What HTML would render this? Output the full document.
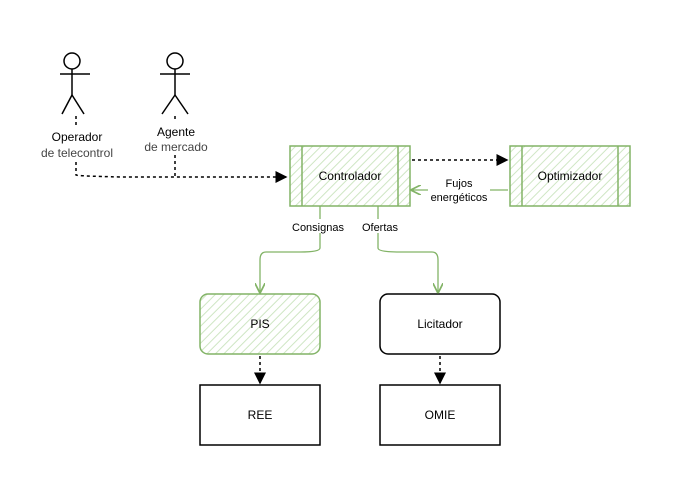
<!DOCTYPE html>
<html><head><meta charset="utf-8"><style>
body{margin:0;background:#fff}
svg text{font-family:"Comic Sans MS","Liberation Sans",sans-serif}
</style></head><body>
<svg width="680" height="490" viewBox="0 0 680 490" xmlns="http://www.w3.org/2000/svg">
<defs>
<pattern id="h" width="6" height="6" patternUnits="userSpaceOnUse" patternTransform="rotate(45)">
<rect width="6" height="6" fill="#fff"/><line x1="0" y1="0" x2="0" y2="6" stroke="#cfe6c4" stroke-width="2"/>
</pattern>
<marker id="ab" markerWidth="8" markerHeight="8" refX="7" refY="4" orient="auto"><path d="M0,0 L8,4 L0,8z" fill="#000"/></marker>
<marker id="ag" markerWidth="8" markerHeight="8" refX="7" refY="4" orient="auto"><path d="M0,0 L8,4 L0,8" fill="none" stroke="#82b366" stroke-width="1.3"/></marker>
</defs>
<!-- actors -->
<g stroke="#000" stroke-width="1.5" fill="none">
<circle cx="72" cy="61" r="8"/><line x1="72" y1="69" x2="72" y2="95"/><line x1="60" y1="74" x2="90" y2="74"/><line x1="72" y1="95" x2="62" y2="114"/><line x1="72" y1="95" x2="84" y2="114"/>
<circle cx="175" cy="61" r="8"/><line x1="175" y1="69" x2="175" y2="95"/><line x1="160" y1="74" x2="190" y2="74"/><line x1="175" y1="95" x2="162" y2="114"/><line x1="175" y1="95" x2="188" y2="114"/>
</g>
<g stroke="#000" stroke-width="1.5" fill="none" stroke-dasharray="3,3">
<line x1="76" y1="116" x2="76" y2="128"/><line x1="175" y1="116" x2="175" y2="122"/>
<path d="M76,162 L76,175 Q78,176 120,177 L286,177" marker-end="url(#ab)"/>
<path d="M175,155 L175,176"/>
<path d="M412,160 L507,160" marker-end="url(#ab)"/>
<path d="M260,356 L260,383" marker-end="url(#ab)"/>
<path d="M440,356 L440,383" marker-end="url(#ab)"/>
</g>
<g font-size="12" text-anchor="middle">
<text x="77" y="141">Operador</text><text x="77" y="157" fill="#444">de telecontrol</text>
<text x="176" y="136">Agente</text><text x="176" y="151" fill="#444">de mercado</text>
</g>
<!-- boxes -->
<g stroke="#82b366" stroke-width="1.5">
<rect x="290" y="146" width="120" height="60" fill="url(#h)"/>
<line x1="302" y1="146" x2="302" y2="206"/><line x1="398" y1="146" x2="398" y2="206"/>
<rect x="510" y="146" width="120" height="60" fill="url(#h)"/>
<line x1="522" y1="146" x2="522" y2="206"/><line x1="618" y1="146" x2="618" y2="206"/>
<rect x="200" y="294" width="120" height="60" rx="8" fill="url(#h)"/>
</g>
<g stroke="#000" stroke-width="1.5" fill="#fff">
<rect x="380" y="294" width="120" height="60" rx="8"/>
<rect x="200" y="385" width="120" height="60"/>
<rect x="380" y="385" width="120" height="60"/>
</g>
<g font-size="12" text-anchor="middle">
<text x="350" y="180">Controlador</text><text x="570" y="180">Optimizador</text>
<text x="260" y="328">PIS</text><text x="440" y="328">Licitador</text>
<text x="260" y="419">REE</text><text x="440" y="419">OMIE</text>
</g>
<!-- green connectors -->
<g stroke="#82b366" stroke-width="1.3" fill="none">
<path d="M508,190 L412,190" marker-end="url(#ag)"/>
<path d="M320,206 L320,248 Q320,252 300,252 L266,252 Q260,252 260,260 L260,292" marker-end="url(#ag)"/>
<path d="M378,206 L378,248 Q378,252 400,252 L432,252 Q438,252 438,260 L438,292" marker-end="url(#ag)"/>
</g>
<rect x="428" y="176" width="62" height="28" fill="#fff"/>
<rect x="288" y="219" width="60" height="14" fill="#fff"/>
<rect x="358" y="219" width="42" height="14" fill="#fff"/>
<g font-size="11" font-family="Liberation Sans,sans-serif" text-anchor="middle" style="font-family:'Liberation Sans',sans-serif">
<text x="459" y="187" style="font-family:'Liberation Sans',sans-serif">Fujos</text>
<text x="459" y="201" style="font-family:'Liberation Sans',sans-serif">energéticos</text>
<text x="318" y="231" style="font-family:'Liberation Sans',sans-serif">Consignas</text>
<text x="380" y="231" style="font-family:'Liberation Sans',sans-serif">Ofertas</text>
</g>
</svg>
</body></html>
